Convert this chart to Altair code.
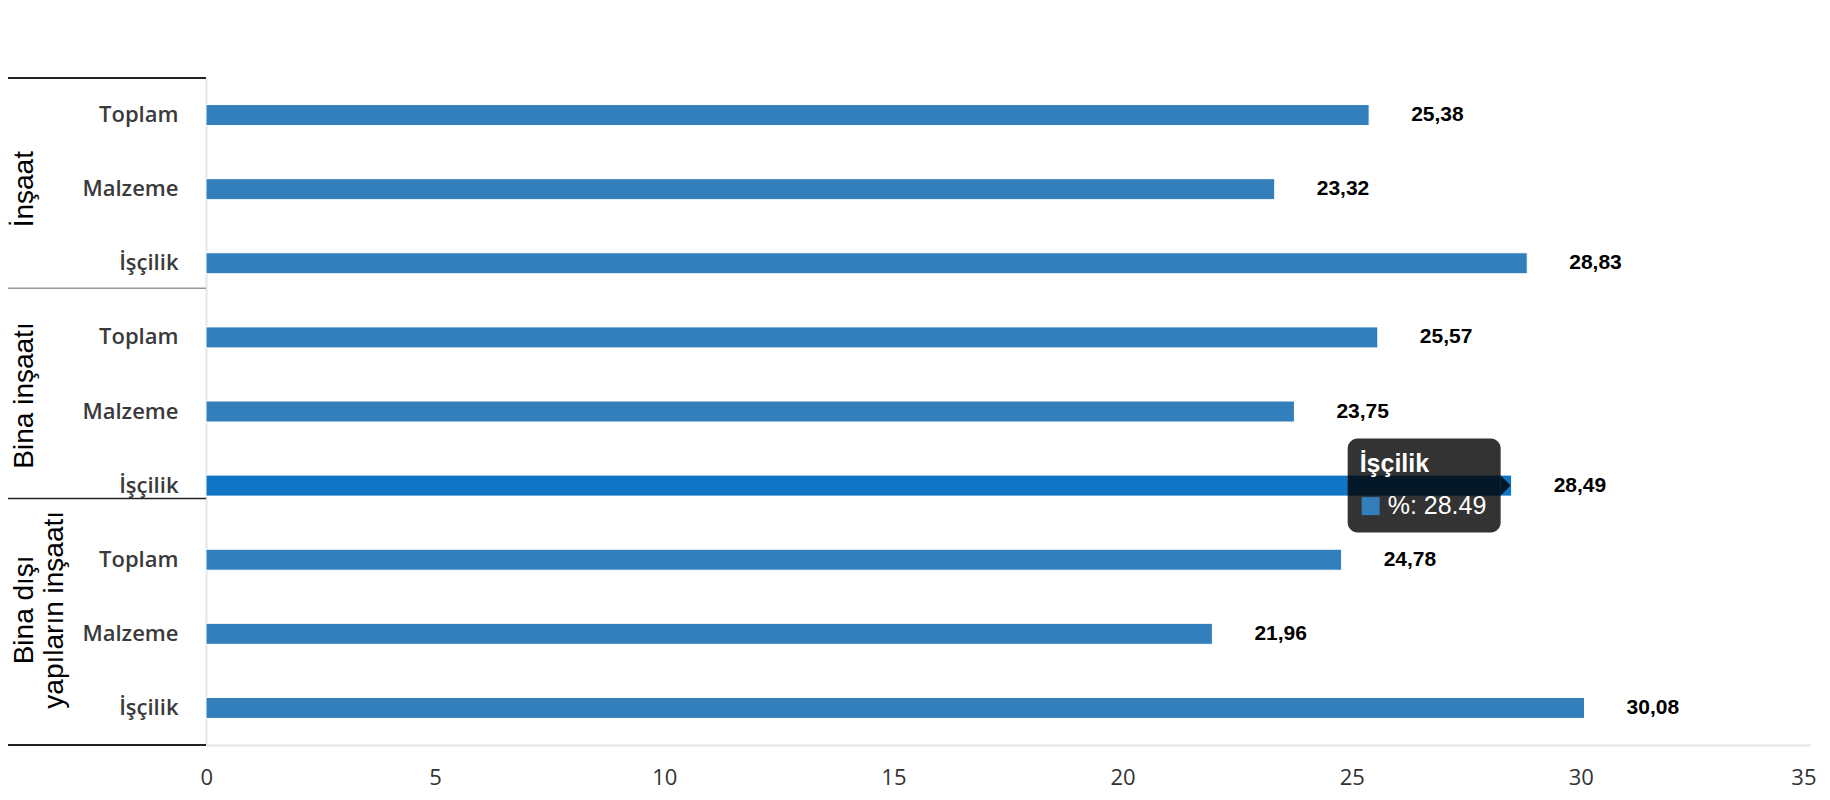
import altair as alt
import pandas as pd

# ---------------- data ----------------
groups = ["İnşaat", "Bina inşaatı", "Bina dışı yapıların inşaatı"]
group_titles = ["İnşaat", "Bina inşaatı", "Bina dışı\nyapıların inşaatı"]
items = ["Toplam", "Malzeme", "İşçilik"]
values_insaat = [25.38, 23.32, 28.83]
values_bina = [25.57, 23.75, 28.49]
values_bina_disi = [24.78, 21.96, 30.08]
x_ticks = [0, 5, 10, 15, 20, 25, 30, 35]
hover_group = "Bina inşaatı"
hover_item = "İşçilik"

rows = []
for g, vals in zip(groups, [values_insaat, values_bina, values_bina_disi]):
    for it, v in zip(items, vals):
        rows.append({"group": g, "item": it, "key": f"{g}|{it}", "value": v})
df = pd.DataFrame(rows)
keys = list(df["key"])
HOVER = f"{hover_group}|{hover_item}"

# ---------------- style ----------------
W, H = 1604, 667
BAR_COLOR = "#337fbb"
HOVER_COLOR = "#0f75c4"
AXIS_LINE = "#e4e6ea"
LEFT_PAD = 198

yenc = alt.Y(
    "key:N",
    sort=keys,
    title=None,
    scale=alt.Scale(paddingInner=0, paddingOuter=0),
    axis=alt.Axis(
        labelExpr="split(datum.label, '|')[1]",
        labelFont="Open Sans",
        labelFontSize=22,
        labelFontWeight=600,
        labelColor="#3a3a3a",
        labelPadding=28,
        ticks=False,
        tickSize=0,
        domainColor=AXIS_LINE,
        domainWidth=2,
        grid=False,
    ),
)
xenc = alt.X(
    "value:Q",
    title=None,
    scale=alt.Scale(domain=[0, 35], nice=False, zero=True),
    axis=alt.Axis(
        values=x_ticks,
        labelFont="Open Sans",
        labelFontSize=22,
        labelColor="#333333",
        labelPadding=22,
        labelFlush=True,
        labelFlushOffset=6,
        ticks=False,
        tickSize=0,
        domainColor=AXIS_LINE,
        domainWidth=2,
        grid=False,
    ),
)
ykey = alt.Y("key:N", sort=keys)

base = alt.Chart(df)

bars = base.mark_bar(size=21, stroke="white", strokeWidth=1).encode(
    x=xenc,
    y=yenc,
    color=alt.condition(alt.datum.key == HOVER, alt.value(HOVER_COLOR), alt.value(BAR_COLOR)),
)

value_labels = base.transform_calculate(
    label="replace(format(datum.value, '.2f'), '.', ',')"
).mark_text(
    align="left", baseline="middle", dx=42,
    font="Liberation Sans", fontSize=21, fontWeight="bold", color="black",
).encode(x="value:Q", y=ykey, text="label:N")

# group labels on the left, rotated
gdf = pd.DataFrame({"key": [f"{g}|Malzeme" for g in groups], "title": group_titles})
group_offsets = [0, -16, -24]
group_layers = []
for i, off in enumerate(group_offsets):
    group_layers.append(
        alt.Chart(gdf.iloc[[i]]).mark_text(
            angle=270, align="center", baseline="top", lineBreak="\n",
            font="Liberation Sans", fontSize=28, lineHeight=30, color="black",
            yOffset=off,
        ).encode(x=alt.value(-LEFT_PAD + 3), y=ykey, text="title:N")
    )

# separator lines in the label area
sep_layers = []
sdf = pd.DataFrame({"key": [f"{groups[0]}|İşçilik", f"{groups[1]}|İşçilik"]})
for i, (off, col) in enumerate(zip([25, 13], ["#999999", "#222222"])):
    sep_layers.append(
        alt.Chart(sdf.iloc[[i]]).mark_rule(color=col, strokeWidth=1.5, yOffset=off).encode(
            x=alt.value(-LEFT_PAD), x2=alt.value(0), y=ykey
        )
    )
frame_top = base.mark_rule(color="#222222", strokeWidth=1.5).encode(
    x=alt.value(-LEFT_PAD), x2=alt.value(0), y=alt.value(0)
)
frame_bottom = base.mark_rule(color="#222222", strokeWidth=1.5).encode(
    x=alt.value(-LEFT_PAD), x2=alt.value(0), y=alt.value(H)
)

# hover tooltip
tdf = df[df["key"] == HOVER]
tip = alt.Chart(tdf)
tip_box = tip.mark_bar(
    size=94, cornerRadius=10, color="black", opacity=0.8, xOffset=-164, x2Offset=-11
).encode(x="value:Q", x2="value:Q", y=ykey)
tip_arrow = tip.mark_point(
    shape="M-0.5,-1L0.5,0L-0.5,1Z", size=400, filled=True, color="black",
    opacity=0.8, strokeWidth=0, xOffset=-6,
).encode(x="value:Q", y=ykey)
tip_title = tip.mark_text(
    align="left", baseline="middle", dx=-152, dy=-22,
    font="Liberation Sans", fontSize=25, fontWeight="bold", color="white",
).encode(x="value:Q", y=ykey, text="item:N")
tip_square = tip.mark_square(
    size=324, color=BAR_COLOR, opacity=1, filled=True, strokeWidth=0,
    xOffset=-141, yOffset=20.5,
).encode(x="value:Q", y=ykey)
tip_value = tip.transform_calculate(
    tt="'%: ' + format(datum.value, '.2f')"
).mark_text(
    align="left", baseline="middle", dx=-124, dy=20,
    font="Liberation Sans", fontSize=25, color="white",
).encode(x="value:Q", y=ykey, text="tt:N")

chart = alt.layer(
    bars, value_labels, *group_layers, *sep_layers, frame_top, frame_bottom,
    tip_box, tip_arrow, tip_title, tip_square, tip_value,
).properties(
    width=W,
    height=H,
    padding={"left": LEFT_PAD, "top": 70, "right": 12, "bottom": 45},
    autosize=alt.AutoSizeParams(type="none"),
    background="white",
).configure_view(stroke=None)

chart.save("out.html", embed_options={"renderer": "svg", "actions": False})
